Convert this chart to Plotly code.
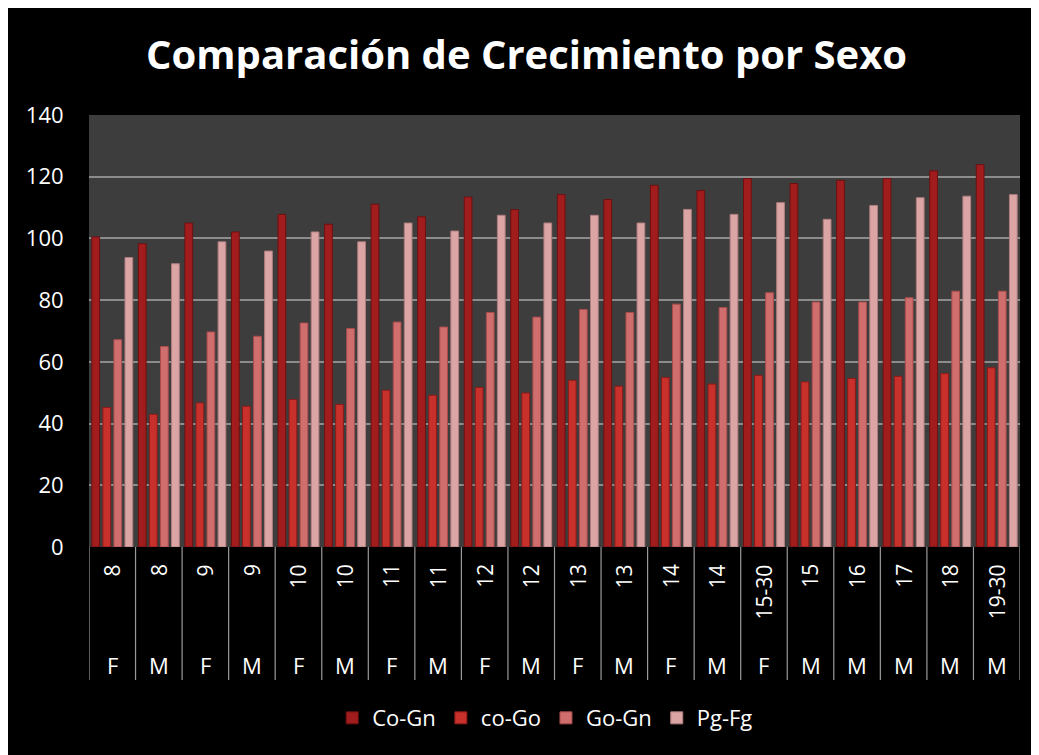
import plotly.graph_objects as go

ages = ["8", "8", "9", "9", "10", "10", "11", "11", "12", "12", "13", "13", "14", "14",
        "15-30", "15", "16", "17", "18", "19-30"]
sexes = ["F", "M", "F", "M", "F", "M", "F", "M", "F", "M", "F", "M", "F", "M",
         "F", "M", "M", "M", "M", "M"]
co_gn = [100.5, 98.3, 105.0, 102.1, 107.8, 104.6, 111.1, 107.0, 113.4, 109.3,
         114.2, 112.6, 117.2, 115.5, 119.4, 117.8, 118.8, 119.4, 121.9, 123.9]
co_go = [45.2, 43.0, 46.7, 45.6, 47.8, 46.2, 50.8, 49.2, 51.7, 49.9,
         54.0, 52.1, 54.9, 52.8, 55.6, 53.5, 54.6, 55.3, 56.2, 58.1]
go_gn = [67.2, 65.0, 69.7, 68.3, 72.6, 70.8, 72.9, 71.3, 76.0, 74.5,
         77.0, 76.0, 78.7, 77.6, 82.4, 79.4, 79.4, 80.8, 82.9, 82.9]
pg_fg = [93.8, 91.8, 98.9, 95.9, 102.1, 98.9, 105.0, 102.4, 107.5, 105.0,
         107.5, 105.0, 109.4, 107.8, 111.6, 106.2, 110.7, 113.2, 113.7, 114.2]

series_names = ["Co-Gn", "co-Go", "Go-Gn", "Pg-Fg"]
series_vals = [co_gn, co_go, go_gn, pg_fg]
series_colors = ["#a11d1d", "#c8302c", "#d06e6e", "#dba5a5"]
series_lines = ["#6e1010", "#8e1a18", "#a84c4c", "#b07d7d"]

cats = [f"{a} {s}" for a, s in zip(ages, sexes)]

fig = go.Figure()
for name, vals, col, lc in zip(series_names, series_vals, series_colors, series_lines):
    fig.add_trace(go.Bar(x=cats, y=vals, name=name,
                         marker=dict(color=col, line=dict(color=lc, width=1))))

FONT = "Open Sans"
n = len(cats)
shapes = []
for i in range(n + 1):
    shapes.append(dict(type="line", xref="x", yref="paper",
                       x0=i - 0.5, x1=i - 0.5, y0=0, y1=-0.308,
                       line=dict(color="#9a9a9a", width=1.2)))

annotations = []
for i, (a, s) in enumerate(zip(ages, sexes)):
    annotations.append(dict(x=cats[i], xref="x", y=-0.035, yref="paper",
                            text=a, textangle=-90, showarrow=False,
                            xanchor="center", yanchor="top",
                            font=dict(family=FONT, size=21, color="white")))
    annotations.append(dict(x=cats[i], xref="x", y=-0.273, yref="paper",
                            text=s, showarrow=False,
                            xanchor="center", yanchor="middle",
                            font=dict(family=FONT, size=22, color="white")))

fig.update_layout(
    width=1031, height=747,
    paper_bgcolor="black",
    plot_bgcolor="#3d3d3d",
    margin=dict(l=81, r=19, t=107, b=208),
    title=dict(text="<b>Comparación de Crecimiento por Sexo</b>",
               x=0.503, xanchor="center", y=0.937, yanchor="middle",
               font=dict(family=FONT, size=40, color="white")),
    barmode="group", bargap=0.05, bargroupgap=0.3,
    xaxis=dict(showticklabels=False, showgrid=False, zeroline=False,
               showline=False, ticks="", range=[-0.5, n - 0.5]),
    yaxis=dict(range=[0, 140], dtick=20, showgrid=True, gridcolor="#8c8c8c",
               gridwidth=1.5, zeroline=False, showline=False,
               tickfont=dict(family=FONT, size=22, color="white"),
               ticks="outside", ticklen=20, tickcolor="black"),
    legend=dict(orientation="h", x=0.49, xanchor="center", y=-0.396,
                yanchor="middle", bgcolor="rgba(0,0,0,0)",
                font=dict(family=FONT, size=22, color="white"),
                traceorder="normal"),
    shapes=shapes,
    annotations=annotations,
    showlegend=True,
)

fig.write_html("out.html")
